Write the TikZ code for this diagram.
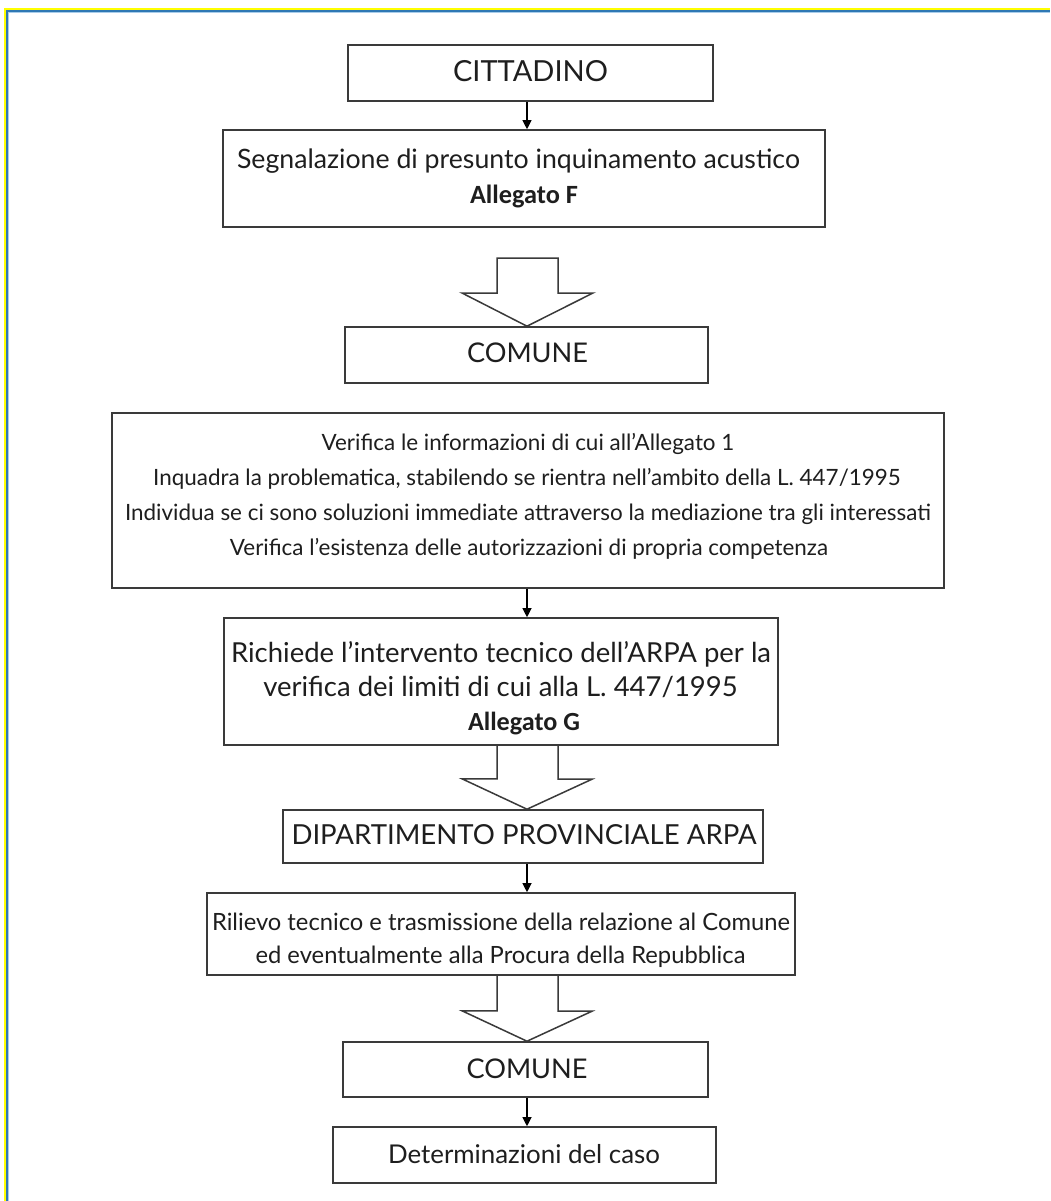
\documentclass[tikz,border=0pt]{standalone}
\usepackage{fontspec}
\setmainfont{Lato}
\newfontfamily\allegfont{Carlito}
\usetikzlibrary{arrows.meta}
\definecolor{boxgray}{HTML}{3A3A3A}
\definecolor{txt}{HTML}{1E1E1E}
\definecolor{bordyellow}{HTML}{FFFF00}
\definecolor{bordblue}{HTML}{2F78B4}
\definecolor{bordlight}{HTML}{A9CDEA}
\newlength\fitlen
\newcommand\fitfont[2]{\settowidth\fitlen{\fontsize{10pt}{12pt}\selectfont #2}\pgfmathsetmacro\fitfs{10*#1/\fitlen}\pgfmathsetmacro\fitbs{1.2*\fitfs}\fontsize{\fitfs pt}{\fitbs pt}\selectfont}
\newcommand\fitalleg[2]{\settowidth\fitlen{\allegfont\bfseries\fontsize{10pt}{12pt}\selectfont #2}\pgfmathsetmacro\fitfs{10*#1/\fitlen}\pgfmathsetmacro\fitbs{1.2*\fitfs}\allegfont\bfseries\fontsize{\fitfs pt}{\fitbs pt}\selectfont}
\begin{document}
\begin{tikzpicture}[x=1pt,y=-1pt,
  box/.style={draw=boxgray, line width=1.6pt, inner sep=0pt},
  txtline/.style={text=txt, inner sep=0pt, anchor=base},
  flow/.style={draw=black, line width=1.1pt, -{Triangle[length=9pt,width=9pt]}},
  barrow/.style={draw=boxgray, line width=1.5pt, line join=miter}]
\useasboundingbox (0,0) rectangle (1050,1201);
\fill[white] (0,0) rectangle (1050,1201);
% frame
\draw[bordyellow, line width=2.2pt] (5.3,1201) -- (5.3,9.2) -- (1050,9.2);
\draw[bordblue, line width=1.4pt] (7.1,1201) -- (7.1,11.0) -- (1050,11.0);
\draw[bordlight, line width=1pt] (8.3,1201) -- (8.3,12.2) -- (1050,12.2);
% helper coordinates
\coordinate (ax) at (527,0);
\coordinate (xl) at (497,0);
\coordinate (xr) at (558,0);
% boxes
\node[box, minimum width=365pt, minimum height=56pt] (cit) at (530.5,73) {};
\node[txtline, font={\fitfont{155}{CITTADINO}}] (citt) at (530.5,82) {CITTADINO};

\node[box, minimum width=602pt, minimum height=97pt] (seg) at (524,178.5) {};
\node[txtline, font={\fitfont{563}{Segnalazione di presunto inquinamento acustico}}] (segt1) at (518.5,168.5) {Segnalazione di presunto inquinamento acustico};
\node[txtline, font={\fitalleg{108}{Allegato F}}] (segt2) at (524,204) {Allegato F};

\node[box, minimum width=363pt, minimum height=56pt] (com1) at (526.5,355) {};
\node[txtline, font={\fitfont{121}{COMUNE}}] (com1t) at (527.5,362.5) {COMUNE};

\node[box, minimum width=832pt, minimum height=175pt] (big) at (528,500.5) {};
\begin{scope}[every node/.style={txtline, font={\fitfont{806}{Individua se ci sono soluzioni immediate attraverso la mediazione tra gli interessati}}}]
\node (bigt1) at (528,450.5) {Verifica le informazioni di cui all’Allegato 1};
\node (bigt2) at (527,485.5) {Inquadra la problematica, stabilendo se rientra nell’ambito della L. 447/1995};
\node (bigt3) at (528,520.5) {Individua se ci sono soluzioni immediate attraverso la mediazione tra gli interessati};
\node (bigt4) at (529,555.5) {Verifica l’esistenza delle autorizzazioni di propria competenza};
\end{scope}

\node[box, minimum width=554pt, minimum height=127pt] (ric) at (501,681.5) {};
\begin{scope}[every node/.style={txtline, font={\fitfont{540}{Richiede l’intervento tecnico dell’ARPA per la}}}]
\node (rict1) at (501,662) {Richiede l’intervento tecnico dell’ARPA per la};
\node (rict2) at (500.5,696) {verifica dei limiti di cui alla L. 447/1995};
\end{scope}
\node[txtline, font={\fitalleg{112}{Allegato G}}] (rict3) at (524,730) {Allegato G};

\node[box, minimum width=480pt, minimum height=53pt] (dip) at (523,836.5) {};
\node[txtline, font={\fitfont{465}{DIPARTIMENTO PROVINCIALE ARPA}}] (dipt) at (524,844.5) {DIPARTIMENTO PROVINCIALE ARPA};

\node[box, minimum width=588pt, minimum height=82pt] (ril) at (501,934) {};
\begin{scope}[every node/.style={txtline, font={\fitfont{578}{Rilievo tecnico e trasmissione della relazione al Comune}}}]
\node (rilt1) at (501,930) {Rilievo tecnico e trasmissione della relazione al Comune};
\node (rilt2) at (500.5,963) {ed eventualmente alla Procura della Repubblica};
\end{scope}

\node[box, minimum width=365pt, minimum height=55pt] (com2) at (525.5,1069.5) {};
\node[txtline, font={\fitfont{121}{COMUNE}}] (com2t) at (527,1078.5) {COMUNE};

\node[box, minimum width=383pt, minimum height=56pt] (det) at (524.5,1155) {};
\node[txtline, font={\fitfont{272}{Determinazioni del caso}}] (dett) at (524,1163) {Determinazioni del caso};

% thin arrows
\draw[flow] (cit.south -| ax) -- (seg.north -| ax);
\draw[flow] (big.south -| ax) -- (ric.north -| ax);
\draw[flow] (dip.south -| ax) -- (ril.north -| ax);
\draw[flow] (com2.south -| ax) -- (det.north -| ax);

% block arrows
\draw[barrow] (497,258) -- (558,258) -- (558,293) -- (593,293) -- (com1.north -| ax) -- (462,293) -- (497,293) -- cycle;
\draw[barrow] (ric.south -| xl) -- ++(0,33) -- ++(-35,0) -- (dip.north -| ax) -- ++(65,-30) -- ++(-34,0) -- (ric.south -| xr);
\draw[barrow] (ril.south -| xl) -- ++(0,35) -- ++(-35,0) -- (com2.north -| ax) -- ++(65,-30) -- ++(-34,0) -- (ril.south -| xr);
\end{tikzpicture}
\end{document}
